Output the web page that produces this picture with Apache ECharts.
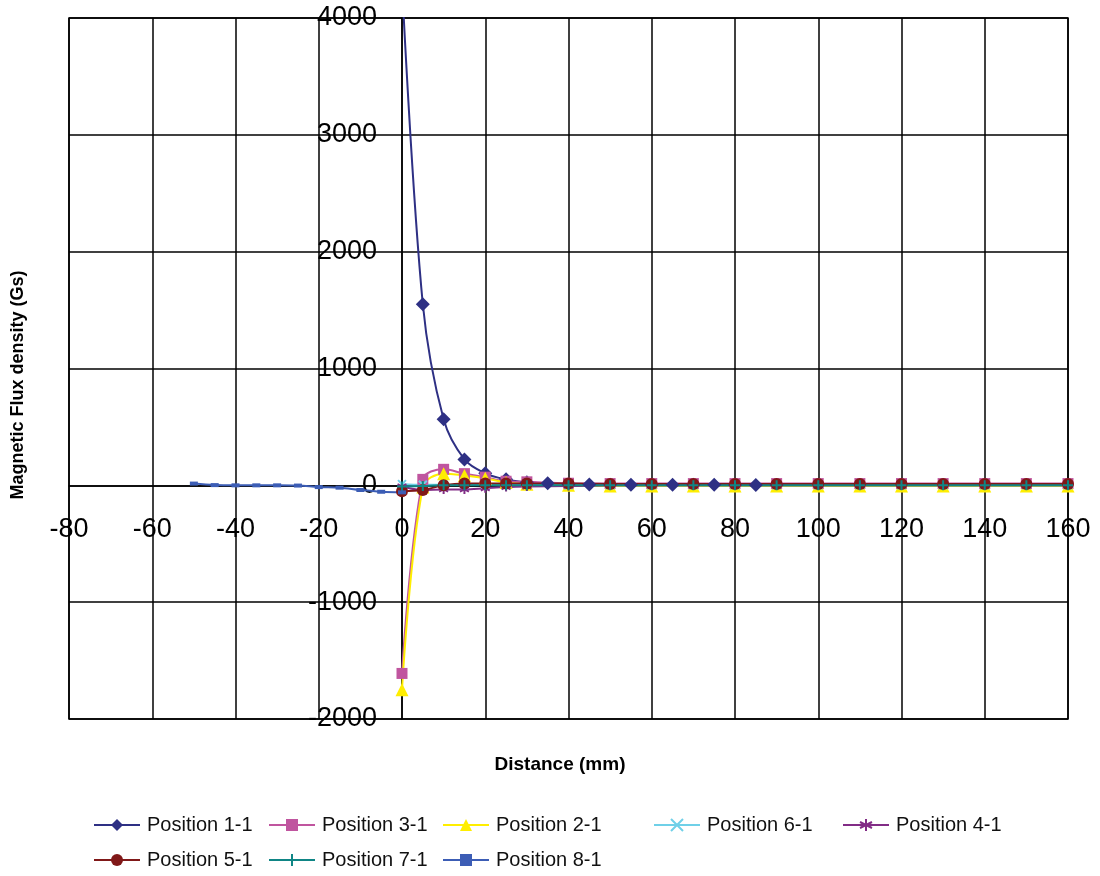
<!DOCTYPE html>
<html>
<head>
<meta charset="utf-8">
<title>Magnetic Flux density</title>
<script src="https://cdn.jsdelivr.net/npm/echarts@6/dist/echarts.min.js"></script>
<style>
  html, body { margin: 0; padding: 0; background: #fff; }
  #chart { width: 1100px; height: 876px; }
</style>
</head>
<body>
<div id="chart"></div>
<script>
// distances (mm)
var xPos11 = [0, 5, 10, 15, 20, 25, 30, 35, 40, 45, 50, 55, 60, 65, 70, 75, 80, 85, 90];
var xNear = [0, 5, 10, 15, 20, 25, 30, 40, 50, 60, 70, 80, 90, 100, 110, 120, 130, 140, 150, 160];
var xPos81 = [-50, -45, -40, -35, -30, -25, -20, -15, -10, -5, 0];

// flux density (Gs)
var pos11 = [4300, 1550, 565, 222, 103, 51, 26, 17, 10, 8, 6, 5, 5, 4, 4, 4, 3, 3, 3];
var pos31 = [-1610, 51, 137, 100, 70, 35, 30, 18, 15, 15, 15, 15, 15, 15, 15, 15, 15, 15, 15, 15];
var pos21 = [-1750, -15, 100, 85, 60, 25, 10, 0, -5, -5, -5, -5, -5, -5, -5, -5, -5, -5, -5, -5];
var pos61 = [10, 5, 5, 5, 5, 5, 5, 0, 0, 0, 0, 0, 0, 0, 0, 0, 0, 0, 0, 0];
var pos41 = [-10, -40, -35, -35, -25, -15, -10, -5, 0, 0, 0, 0, 0, 0, 0, 0, 0, 0, 0, 0];
var pos51 = [-50, -40, 0, 15, 15, 15, 15, 15, 12, 12, 12, 12, 12, 12, 12, 12, 12, 12, 12, 12];
var pos71 = [-10, -5, 0, 0, 0, 0, 0, 0, 0, 0, 0, 0, 0, 0, 0, 0, 0, 0, 0, 0];
var pos81 = [15, 2, 0, 0, 0, -2, -15, -20, -40, -55, -60];

var names = ['Position 1-1', 'Position 3-1', 'Position 2-1', 'Position 6-1',
             'Position 4-1', 'Position 5-1', 'Position 7-1', 'Position 8-1'];

var xMin = -80, xMax = 160, yMin = -2000, yMax = 4000;

function pairs(xs, ys) {
    return xs.map(function(x, i) { return [x, ys[i]]; });
}

var tickFont = 'Liberation Sans, Arial, sans-serif';

var plus = 'path://M5,0L5,10M0,5L10,5';
var cross = 'path://M0,0L10,10M10,0L0,10';
var star = 'path://M5,0L5,10M0.7,2.5L9.3,7.5M0.7,7.5L9.3,2.5';

function mkSeries(name, xs, ys, color, symbol, size, stroked) {
    return {
        name: name,
        type: 'line',
        data: pairs(xs, ys),
        smooth: 0.35,
        symbol: symbol,
        symbolSize: size,
        showAllSymbol: true,
        clip: true,
        color: color,
        lineStyle: { color: color, width: 2 },
        itemStyle: stroked
            ? { color: color, borderColor: color, borderWidth: 2 }
            : { color: color },
        emphasis: { disabled: true },
        z: 3
    };
}

var series = [
    mkSeries(names[0], xPos11, pos11, '#2E3084', 'diamond', 14, false),
    mkSeries(names[1], xNear, pos31, '#C0559F', 'rect', 11, false),
    mkSeries(names[2], xNear, pos21, '#FFEE00', 'triangle', 13, false),
    mkSeries(names[3], xNear, pos61, '#6FD0E8', cross, 8, true),
    mkSeries(names[4], xNear, pos41, '#822C86', star, 9, true),
    mkSeries(names[5], xNear, pos51, '#801818', 'circle', 12, false),
    mkSeries(names[6], xNear, pos71, '#0F8585', plus, 10, true),
    mkSeries(names[7], xPos81, pos81, '#3C5DB5', 'rect', [8, 4], false)
];

// legend rows laid out like the original (5 + 3)
var legendSpots = [[93, 815], [268, 815], [442, 815], [653, 815], [842, 815],
                   [93, 850], [268, 850], [442, 850]];
var legends = names.map(function(n, i) {
    return {
        data: [n],
        left: legendSpots[i][0],
        top: legendSpots[i][1],
        orient: 'horizontal',
        itemWidth: 46,
        itemHeight: 15,
        itemGap: 0,
        padding: 0,
        selectedMode: false,
        textStyle: { fontSize: 20, color: '#111', fontFamily: tickFont, padding: [0, 0, 0, 2] }
    };
});

// plot box in pixels, axes are shifted onto the zero lines
var gLeft = 69, gRight = 32, gTop = 18, gBottom = 157;
var W = 1100, H = 876;
var plotW = W - gLeft - gRight, plotH = H - gTop - gBottom;
var xZeroShift = -(0 - xMin) / (xMax - xMin) * plotW;
var yZeroShift = -(0 - yMin) / (yMax - yMin) * plotH;

var myChart = echarts.init(document.getElementById('chart'));
var option = {
    animation: false,
    backgroundColor: '#fff',
    grid: {
        left: gLeft, right: gRight, top: gTop, bottom: gBottom,
        outerBoundsMode: 'none',
        containLabel: false,
        show: true, borderColor: '#000', borderWidth: 1.5
    },
    legend: legends,
    xAxis: {
        type: 'value',
        min: xMin, max: xMax, interval: 20,
        offset: yZeroShift,
        axisLine: { onZero: false, lineStyle: { color: '#000', width: 1.5 } },
        axisTick: { show: false },
        axisLabel: {
            margin: 31, fontSize: 27, color: '#000', fontFamily: tickFont,
            formatter: function(v) { return String(v); }
        },
        splitLine: { show: true, lineStyle: { color: '#000', width: 1.5 } }
    },
    yAxis: {
        type: 'value',
        min: yMin, max: yMax, interval: 1000,
        offset: xZeroShift,
        axisLine: { onZero: false, lineStyle: { color: '#000', width: 1.5 } },
        axisTick: { show: false },
        axisLabel: {
            margin: 25, fontSize: 27, color: '#000', fontFamily: tickFont,
            formatter: function(v) { return String(v); }
        },
        splitLine: { show: true, lineStyle: { color: '#000', width: 1.5 } }
    },
    graphic: [
        {
            type: 'text', x: 18, y: 385, rotation: Math.PI / 2,
            style: {
                text: 'Magnetic Flux density (Gs)', fill: '#000',
                font: 'bold 18px ' + tickFont, align: 'center', verticalAlign: 'middle'
            }
        },
        {
            type: 'text', x: 560, y: 765,
            style: {
                text: 'Distance (mm)', fill: '#000',
                font: 'bold 19px ' + tickFont, align: 'center', verticalAlign: 'middle'
            }
        }
    ],
    series: series
};
myChart.setOption(option);
</script>
</body>
</html>
